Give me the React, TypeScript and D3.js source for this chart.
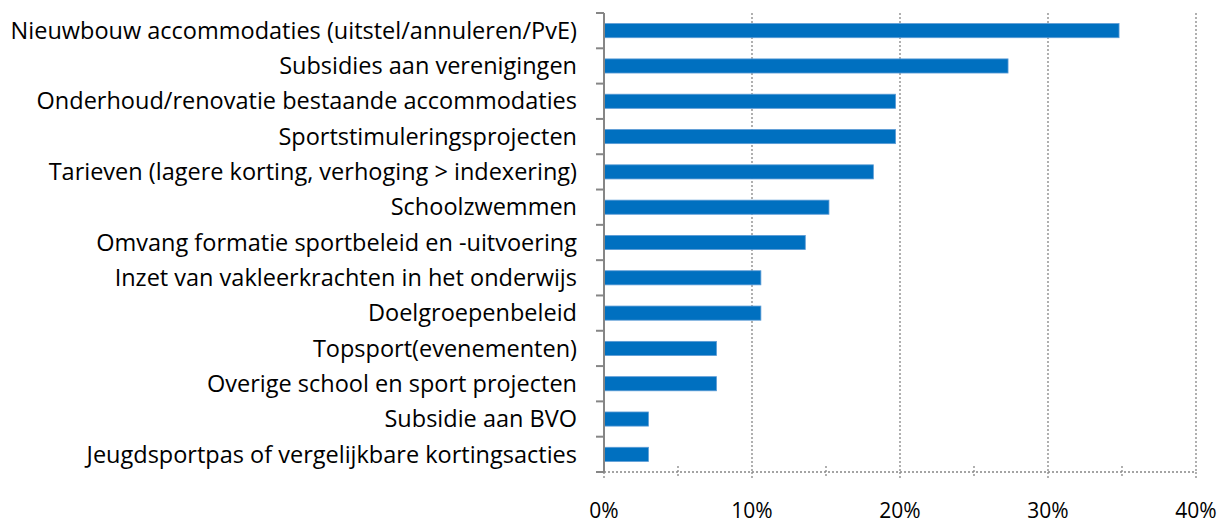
import React, { useEffect, useRef } from "react";
import * as d3 from "d3";

const categories = [
  "Nieuwbouw accommodaties (uitstel/annuleren/PvE)",
  "Subsidies aan verenigingen",
  "Onderhoud/renovatie bestaande accommodaties",
  "Sportstimuleringsprojecten",
  "Tarieven (lagere korting, verhoging > indexering)",
  "Schoolzwemmen",
  "Omvang formatie sportbeleid en -uitvoering",
  "Inzet van vakleerkrachten in het onderwijs",
  "Doelgroepenbeleid",
  "Topsport(evenementen)",
  "Overige school en sport projecten",
  "Subsidie aan BVO",
  "Jeugdsportpas of vergelijkbare kortingsacties",
];
const values = [34.8, 27.3, 19.7, 19.7, 18.2, 15.2, 13.6, 10.6, 10.6, 7.6, 7.6, 3.0, 3.0];
const majorTicks = [0, 10, 20, 30, 40];
const minorTicks = [0, 5, 10, 15, 20, 25, 30, 35, 40];

export default function App() {
  const ref = useRef<SVGSVGElement>(null);

  useEffect(() => {
    const W = 1222;
    const H = 524;
    const m = { top: 13, right: 26, bottom: 52, left: 604 };
    const svg = d3.select(ref.current);
    svg.selectAll("*").remove();

    const x = d3.scaleLinear().domain([0, 40]).range([m.left, W - m.right]);
    const y = d3
      .scaleBand<string>()
      .domain(categories)
      .range([m.top, H - m.bottom])
      .paddingInner(0.6)
      .paddingOuter(0.3);
    const bandStep = (H - m.bottom - m.top) / categories.length;
    const axisColor = "#868686";
    const font = "Open Sans, sans-serif";

    // gridlines
    svg
      .append("g")
      .selectAll("line")
      .data(majorTicks.filter((d) => d > 0))
      .join("line")
      .attr("x1", (d) => x(d))
      .attr("x2", (d) => x(d))
      .attr("y1", m.top)
      .attr("y2", H - m.bottom)
      .attr("stroke", axisColor)
      .attr("stroke-width", 1.3)
      .attr("stroke-dasharray", "2,2");

    // bars
    svg
      .append("g")
      .selectAll("rect")
      .data(values)
      .join("rect")
      .attr("x", x(0))
      .attr("y", (d, i) => y(categories[i])!)
      .attr("width", (d) => x(d) - x(0))
      .attr("height", y.bandwidth())
      .attr("fill", "#0070C0")
      .attr("stroke", "#5B9BD5")
      .attr("stroke-width", 0.8);

    // bottom axis (dotted)
    const yb = H - m.bottom;
    svg
      .append("line")
      .attr("x1", x(0))
      .attr("x2", x(40))
      .attr("y1", yb)
      .attr("y2", yb)
      .attr("stroke", axisColor)
      .attr("stroke-width", 1.3)
      .attr("stroke-dasharray", "2,2");
    svg
      .append("g")
      .selectAll("line")
      .data(minorTicks)
      .join("line")
      .attr("x1", (d) => x(d))
      .attr("x2", (d) => x(d))
      .attr("y1", (d) => (d % 10 === 0 ? yb : yb - 6))
      .attr("y2", yb + 6)
      .attr("stroke", axisColor)
      .attr("stroke-width", 1.3)
      .attr("stroke-dasharray", "2,2");

    svg
      .append("g")
      .selectAll("text")
      .data(majorTicks)
      .join("text")
      .attr("x", (d) => x(d))
      .attr("y", 518)
      .attr("text-anchor", "middle")
      .attr("font-family", font)
      .attr("font-size", 21)
      .attr("fill", "#000")
      .text((d) => d + "%");

    // left axis
    svg
      .append("line")
      .attr("x1", m.left)
      .attr("x2", m.left)
      .attr("y1", m.top)
      .attr("y2", yb)
      .attr("stroke", axisColor)
      .attr("stroke-width", 2);
    svg
      .append("g")
      .selectAll("line")
      .data(d3.range(categories.length + 1))
      .join("line")
      .attr("x1", m.left - 8)
      .attr("x2", m.left)
      .attr("y1", (i) => m.top + i * bandStep)
      .attr("y2", (i) => m.top + i * bandStep)
      .attr("stroke", axisColor)
      .attr("stroke-width", 2);

    svg
      .append("g")
      .selectAll("text")
      .data(categories)
      .join("text")
      .attr("x", m.left - 27)
      .attr("y", (d) => y(d)! + y.bandwidth() / 2)
      .attr("dy", "0.35em")
      .attr("text-anchor", "end")
      .attr("font-family", font)
      .attr("font-size", 23.5)
      .attr("fill", "#000")
      .text((d) => d);
  }, []);

  return (
    <svg
      ref={ref}
      width={1222}
      height={524}
      style={{ position: "absolute", left: 0, top: 0, background: "#fff" }}
    />
  );
}
